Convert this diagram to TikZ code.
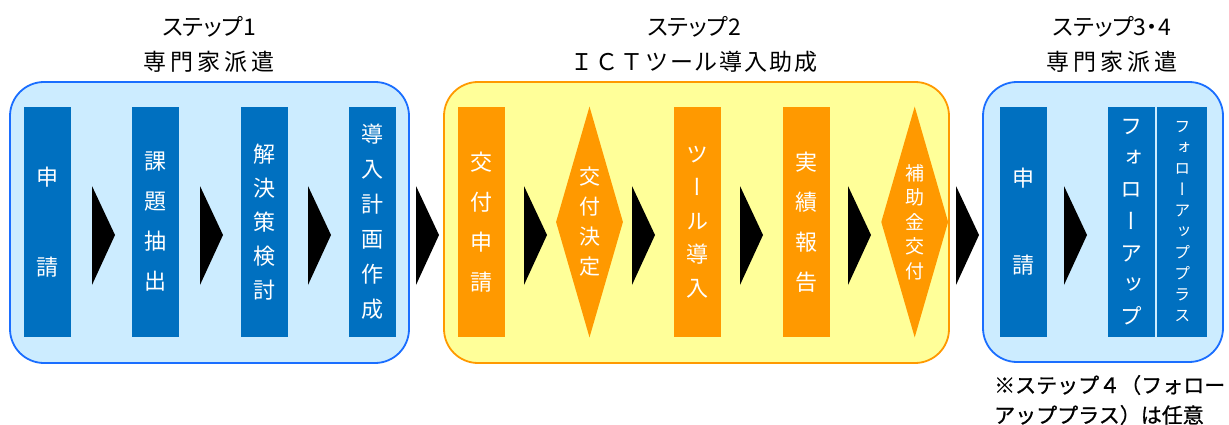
\documentclass[tikz,border=0pt]{standalone}
\usepackage{fontspec}
\setmainfont{Noto Sans CJK JP}
\newfontfamily\vfont[RawFeature=+vert]{Noto Sans CJK JP}
\usetikzlibrary{positioning,shapes.geometric}

\definecolor{skyfill}{HTML}{CCECFF}
\definecolor{skyline}{HTML}{1A6EFF}
\definecolor{stepblue}{HTML}{0070C0}
\definecolor{creamfill}{HTML}{FFFF99}
\definecolor{steporange}{HTML}{FF9900}

\newcommand{\tatefont}[2]{\vfont\fontsize{#1}{#2}\selectfont}
\newcommand{\kana}{\addfontfeature{RawFeature=+palt}}

\begin{document}
\begin{tikzpicture}[x=1pt,y=-1pt]
\tikzstyle{panel}=[rounded corners=34pt, line width=1.8pt]
\tikzstyle{bluebox}=[rectangle, fill=stepblue, minimum width=47pt, minimum height=230pt, inner sep=0pt, text=white, align=center, node distance=61pt]
\tikzstyle{orangebox}=[bluebox, fill=steporange]
\tikzstyle{decision}=[diamond, fill=steporange, minimum width=67pt, minimum height=231pt, inner sep=0pt]
\tikzstyle{vlabel}=[text=white, align=center, inner sep=0pt]
\tikzstyle{title}=[align=center, inner sep=0pt, font=\fontsize{23}{35}\selectfont]
\tikzstyle{note}=[anchor=base west, inner sep=0pt, font=\fontsize{21}{30}\selectfont\addfontfeature{FakeBold=0.8}]

  \useasboundingbox (0,0) rectangle (1229,425);

  % three stages
  \draw[panel, draw=skyline, fill=skyfill] (10,82) rectangle (409,363);
  \draw[panel, draw=steporange, fill=creamfill] (444,82) rectangle (949,363);
  \draw[panel, draw=skyline, fill=skyfill] (983,82) rectangle (1223,362);

  \node[title] (title1) at (209,44) {{\kana ステップ1}\\{\addfontfeature{LetterSpace=18}専門家派遣}};
  \node[title] (title2) at (694,44) {{\kana ステップ2}\\{\addfontfeature{LetterSpace=8}ＩＣＴツール導入助成}};
  \node[title] (title3) at (1112,44) {{\kana ステップ3・4}\\{\addfontfeature{LetterSpace=18}専門家派遣}};

  % step 1
  \node[bluebox, font=\tatefont{22}{90}] (apply) at (47.5,222) {申\\請};
  \node[bluebox, font=\tatefont{22}{40}, right=of apply] (issue) {課\\題\\抽\\出};
  \node[bluebox, font=\tatefont{22}{34}, right=of issue] (solve) {解\\決\\策\\検\\討};
  \node[bluebox, font=\tatefont{22}{35}, right=of solve] (plan) {導\\入\\計\\画\\作\\成};

  % step 2
  \node[orangebox, font=\tatefont{22}{40}, right=of plan] (grantapp) {交\\付\\申\\請};
  \node[decision, right=51pt of grantapp] (grantok) {};
  \node[vlabel, font=\tatefont{21}{30}] (grantoktxt) at (grantok) {交\\付\\決\\定};
  \node[orangebox, font=\tatefont{22}{33.5}, right=51pt of grantok] (tool) {ツ\\ー\\ル\\導\\入};
  \node[orangebox, font=\tatefont{22}{40}, right=of tool] (report) {実\\績\\報\\告};
  \node[decision, right=51pt of report] (pay) {};
  \node[vlabel, font=\tatefont{19}{24.5}] (paytxt) at (pay) {補\\助\\金\\交\\付};

  % step 3 and 4
  \node[bluebox, font=\tatefont{22}{87}, right=51pt of pay] (apply2) {申\\請};
  \node[bluebox, font=\tatefont{22}{31.7}, right=of apply2] (follow) {フ\\ォ\\ロ\\ー\\ア\\ッ\\プ};
  \node[bluebox, font=\tatefont{16}{21}, minimum width=50pt, right=2pt of follow] (plus) {フ\\ォ\\ロ\\ー\\ア\\ッ\\プ\\プ\\ラ\\ス};

  % chevrons between the steps
  \foreach \i in {0,...,9}
    \fill (92+108*\i,186) -- (115+108*\i,235) -- (92+108*\i,285) -- cycle;

  \node[note] (note1) at (994,393) {※ステップ４（フォロー};
  \node[note] (note2) at (994,423) {アッププラス）は任意};
\end{tikzpicture}
\end{document}
